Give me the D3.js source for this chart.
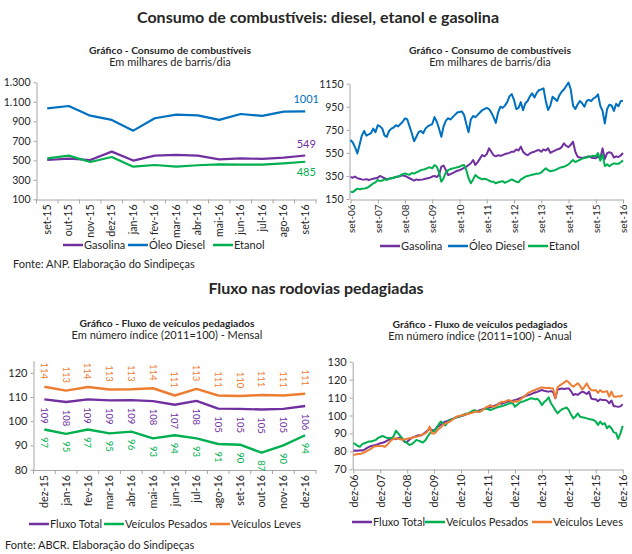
<!DOCTYPE html>
<html>
<head>
<meta charset="utf-8">
<script src="https://cdn.jsdelivr.net/npm/d3@7"></script>
<style>
  body { margin: 0; background: #fff; }
  svg { font-family: Lato, sans-serif; }
</style>
</head>
<body>
<svg id="chart" width="632" height="554"></svg>
<script>
// --- consumo de combustíveis, mensal (set-15 a set-16) ---
const mesesComb = ['set-15', 'out-15', 'nov-15', 'dez-15', 'jan-16', 'fev-16', 'mar-16',
  'abr-16', 'mai-16', 'jun-16', 'jul-16', 'ago-16', 'set-16'];
const gasolinaCurto = [503, 517, 503, 589, 497, 548, 555, 548, 510, 520, 514, 527, 549];
const dieselCurto = [1033, 1057, 958, 914, 804, 931, 968, 961, 914, 975, 955, 999, 1001];
const etanolCurto = [520, 548, 483, 534, 435, 452, 435, 449, 459, 455, 455, 469, 485];

// --- consumo de combustíveis, série longa (set-06 a set-16, 121 meses) ---
const anosComb = ['set-06', 'set-07', 'set-08', 'set-09', 'set-10', 'set-11',
  'set-12', 'set-13', 'set-14', 'set-15', 'set-16'];
const gasolinaLongo = [
  340, 335, 345, 330, 325, 320, 318, 322, 315, 320, 325, 330,
  335, 350, 340, 330, 320, 325, 330, 335, 340, 345, 350, 355,
  350, 340, 330, 320, 310, 320, 315, 318, 320, 325, 330, 335,
  345, 350, 340, 360, 430, 440, 400, 358, 365, 375, 385, 395,
  400, 410, 420, 430, 445, 460, 488, 445, 470, 500, 531, 520,
  540, 590, 560, 530, 520, 530, 525, 530, 540, 545, 550, 560,
  560, 580, 570, 604, 560, 540, 530, 545, 555, 560, 570, 575,
  560, 580, 570, 590, 550, 560, 570, 580, 585, 600, 633, 610,
  600, 620, 647, 560, 517, 510, 505, 510, 515, 520, 510, 505,
  503, 517, 503, 589, 497, 548, 555, 548, 510, 520, 514, 527,
  549];
const dieselLongo = [
  662, 640, 600, 545, 620, 700, 740, 700, 710, 720, 760, 730,
  790, 780, 760, 700, 690, 740, 760, 770, 790, 780, 800, 820,
  850, 840, 780, 720, 650, 690, 730, 740, 720, 760, 780, 790,
  800, 860, 820, 760, 690, 780, 830, 850, 840, 860, 880, 900,
  905, 910, 880, 800, 730, 840, 870, 860, 880, 900, 920, 930,
  940, 930, 900, 860, 810, 900, 950, 940, 960, 990, 1040, 1060,
  1010, 930, 940, 990, 920, 980, 1000, 1040, 1066, 1030, 1070, 1095,
  1100, 1110, 1000, 922, 960, 1037, 1020, 1000, 1050, 1080, 1100, 1130,
  1160, 1100, 960, 930, 970, 1000, 980, 950, 1000, 1010, 1000, 1023,
  1033, 1057, 958, 914, 804, 931, 968, 961, 914, 975, 955, 999,
  1001];
const etanolLongo = [
  213, 210, 225, 240, 235, 238, 240, 245, 255, 270, 285, 295,
  315, 305, 310, 320, 315, 325, 330, 335, 340, 345, 355, 365,
  372, 365, 360, 375, 370, 380, 390, 400, 405, 410, 420, 425,
  416, 445, 430, 380, 300, 330, 380, 400, 410, 415, 420, 425,
  430, 440, 445, 400, 330, 286, 320, 358, 340, 330, 320, 325,
  320, 310, 300, 300, 286, 295, 300, 305, 290, 300, 310, 320,
  310, 300, 295, 320, 330, 344, 350, 355, 360, 365, 370, 372,
  380, 400, 416, 400, 390, 395, 400, 410, 420, 425, 430, 440,
  450, 470, 488, 470, 480, 490, 500, 505, 510, 517, 520, 525,
  520, 548, 483, 534, 435, 452, 435, 449, 459, 455, 455, 469,
  485];

// --- fluxo nas rodovias pedagiadas, mensal (dez-15 a dez-16) ---
const mesesFluxo = ['dez-15', 'jan-16', 'fev-16', 'mar-16', 'abr-16', 'mai-16', 'jun-16',
  'jul-16', 'ago-16', 'set-16', 'out-16', 'nov-16', 'dez-16'];
const totalCurto = [109.0, 107.9, 109.0, 108.6, 108.7, 108.3, 106.8, 108.4, 105.2, 105.1, 104.8, 105.1, 106.3];
const pesadosCurto = [96.6, 94.8, 96.6, 95.0, 95.7, 92.9, 94.2, 92.9, 90.6, 90.3, 87.0, 90.0, 94.2];
const levesCurto = [114.2, 112.6, 114.1, 113.1, 113.2, 113.6, 110.6, 113.3, 110.6, 110.4, 110.8, 110.6, 111.3];

// --- fluxo, série longa (dez-06 a dez-16, 121 meses) ---
const anosFluxo = ['dez-06', 'dez-07', 'dez-08', 'dez-09', 'dez-10', 'dez-11',
  'dez-12', 'dez-13', 'dez-14', 'dez-15', 'dez-16'];
const totalLongo = [
  80.4, 80.5, 80.3, 80.6, 80.5, 81.0, 81.8, 82.5, 83.0, 83.3, 83.6, 84.0,
  84.5, 84.8, 85.2, 86.0, 86.6, 87.2, 87.0, 86.8, 87.5, 87.8, 86.5, 85.2,
  85.4, 86.5, 87.5, 88.0, 88.5, 89.0, 88.8, 89.5, 90.5, 91.5, 92.5, 92.0,
  91.5, 93.0, 94.0, 95.0, 96.0, 96.6, 97.0, 97.5, 98.0, 98.5, 99.0, 99.3,
  99.7, 100.0, 100.5, 101.0, 101.5, 102.1, 102.4, 102.2, 102.8, 103.2, 103.6, 103.8,
  104.0, 104.5, 105.0, 105.5, 106.0, 106.8, 106.5, 107.0, 107.5, 107.8, 108.0, 108.3,
  108.6, 109.0, 109.5, 110.0, 110.5, 111.0, 111.4, 111.8, 112.3, 112.8, 113.2, 113.8,
  114.2, 113.8, 113.5, 113.3, 113.6, 113.0, 109.6, 114.5, 114.8, 115.0, 114.8, 115.0,
  115.1, 113.5, 111.4, 112.0, 111.5, 112.5, 113.3, 112.8, 112.0, 113.3, 109.5, 109.0,
  109.0, 107.9, 109.0, 108.6, 108.7, 108.3, 106.8, 108.4, 105.2, 105.1, 104.8, 105.1,
  106.3];
const pesadosLongo = [
  84.5, 84.0, 83.0, 82.6, 84.0, 84.5, 85.0, 85.5, 85.5, 86.0, 86.3, 87.5,
  88.0, 88.6, 88.0, 87.5, 87.5, 87.3, 88.5, 91.5, 90.0, 88.5, 87.0, 85.5,
  84.5, 83.6, 84.0, 85.0, 86.3, 86.0, 85.5, 84.9, 86.0, 88.0, 90.0, 91.0,
  91.5, 93.0, 95.0, 96.6, 95.5, 94.5, 96.0, 97.5, 98.0, 98.5, 99.0, 99.5,
  99.7, 100.5, 101.0, 101.0, 101.8, 102.5, 103.0, 102.5, 102.0, 102.5, 103.5, 104.0,
  103.5, 103.0, 103.5, 104.0, 104.5, 104.9, 105.2, 105.5, 106.0, 106.5, 106.8, 107.0,
  104.9, 106.0, 107.0, 107.7, 108.0, 108.5, 109.0, 109.6, 109.5, 109.0, 109.3, 108.0,
  105.8, 107.5, 108.5, 110.1, 107.0, 105.0, 103.0, 101.2, 102.5, 103.5, 104.0, 104.5,
  103.0, 100.5, 98.4, 99.5, 101.2, 99.3, 99.0, 98.8, 98.4, 98.0, 97.8, 97.5,
  96.6, 94.8, 96.6, 95.0, 95.7, 92.9, 94.2, 92.9, 90.6, 90.3, 87.0, 90.0,
  94.2];
const levesLongo = [
  78.0, 78.3, 78.5, 78.5, 78.9, 79.5, 80.2, 80.8, 81.5, 82.6, 82.8, 83.0,
  83.0, 83.0, 82.5, 83.5, 85.0, 86.3, 87.0, 87.3, 87.0, 86.7, 86.5, 86.7,
  87.0, 87.3, 87.5, 88.0, 88.2, 88.5, 89.0, 89.5, 90.0, 91.0, 93.8, 90.0,
  90.0, 91.0, 92.5, 93.5, 94.7, 95.5, 96.0, 96.6, 97.5, 98.5, 99.3, 99.8,
  100.0, 100.3, 100.6, 101.0, 101.2, 101.5, 102.1, 102.3, 102.0, 102.6, 103.5, 104.5,
  105.0, 105.8, 105.0, 104.9, 105.8, 106.5, 107.7, 107.5, 108.0, 108.6, 108.3, 107.5,
  108.0, 107.7, 108.5, 109.5, 110.5, 111.5, 112.7, 113.2, 113.8, 114.2, 114.8, 115.3,
  115.7, 115.5, 115.3, 115.5, 115.2, 115.0, 109.6, 115.8, 116.8, 117.6, 118.5, 119.4,
  118.5, 117.0, 116.1, 117.0, 118.0, 116.5, 114.5, 116.0, 117.9, 115.5, 114.2, 114.0,
  114.2, 112.6, 114.1, 113.1, 113.2, 113.6, 110.6, 113.3, 110.6, 110.4, 110.8, 110.6,
  111.3];

const roxo = '#7030a0', azul = '#0070c0', verde = '#00b050', laranja = '#ed7d31';
const axisColor = '#a6a6a6', textColor = '#262626';

const svg = d3.select('#chart');
const ptBR = d3.formatLocale({decimal: ',', thousands: '.', grouping: [3], currency: ['R$', '']});
const fmtMil = ptBR.format(',d');
const fmtInt = d3.format('.0f');

const addText = (x, y, txt, size, opts = {}) => svg.append('text')
  .attr('x', x).attr('y', y)
  .attr('text-anchor', opts.anchor || 'middle')
  .attr('font-size', size)
  .attr('font-weight', opts.bold ? 'bold' : 'normal')
  .attr('fill', opts.color || textColor)
  .text(txt);

// style a d3 axis group the way Excel draws it
const styleAxis = (g, size) => {
  g.attr('font-family', null).attr('font-size', size);
  g.select('.domain').attr('stroke', axisColor);
  g.selectAll('.tick line').attr('stroke', axisColor);
  g.selectAll('.tick text').attr('fill', textColor);
};

// x labels standing vertically, reading bottom to top
const rotateLabels = (g, gap) => {
  g.selectAll('.tick text')
    .attr('transform', 'rotate(-90)')
    .attr('text-anchor', 'end')
    .attr('x', -gap).attr('y', 0).attr('dy', '0.35em');
};

const legend = (y, items, size) => {
  items.forEach(it => {
    svg.append('line')
      .attr('x1', it.x).attr('x2', it.x + 20)
      .attr('y1', y).attr('y2', y)
      .attr('stroke', it.color).attr('stroke-width', 2.5);
    addText(it.x + 21, y + 4, it.label, size, {anchor: 'start'});
  });
};

const drawLine = (data, xf, y, color, w) => svg.append('path')
  .datum(data)
  .attr('fill', 'none')
  .attr('stroke', color)
  .attr('stroke-width', w)
  .attr('stroke-linejoin', 'round')
  .attr('d', d3.line().x((d, i) => xf(i)).y(d => y(d)));

// ---------------- titles ----------------
addText(318, 23, 'Consumo de combustíveis: diesel, etanol e gasolina', 16, {bold: true});
addText(316, 294, 'Fluxo nas rodovias pedagiadas', 16, {bold: true});

// ---------------- painel 1: consumo mensal ----------------
{
  addText(170, 54, 'Gráfico - Consumo de combustíveis', 10.3, {bold: true});
  addText(170, 66, 'Em milhares de barris/dia', 11);

  const x = d3.scaleBand().domain(mesesComb).range([36.5, 316]);
  const y = d3.scaleLinear().domain([100, 1300]).range([199.3, 82.3]);
  const cx = i => x(mesesComb[i]) + x.bandwidth() / 2;

  const gy = svg.append('g').attr('transform', 'translate(36.5,0)')
    .call(d3.axisLeft(y).tickValues(d3.range(100, 1301, 200)).tickFormat(fmtMil)
      .tickSize(3).tickSizeOuter(0).tickPadding(3));
  styleAxis(gy, 10.5);

  const gx = svg.append('g').attr('transform', 'translate(0,199.5)')
    .call(d3.axisBottom(x).tickSize(0).tickSizeOuter(0));
  styleAxis(gx, 10.5);
  rotateLabels(gx, 5);
  gx.selectAll('.sep').data([...mesesComb.map(m => x(m)), x.range()[1]]).join('line')
    .attr('x1', d => d).attr('x2', d => d).attr('y1', 0).attr('y2', 4)
    .attr('stroke', axisColor);

  drawLine(gasolinaCurto, cx, y, roxo, 2.2);
  drawLine(dieselCurto, cx, y, azul, 2.2);
  drawLine(etanolCurto, cx, y, verde, 2.2);

  const last = mesesComb.length - 1;
  addText(cx(last) + 1, y(dieselCurto[last]) - 8, fmtInt(dieselCurto[last]), 11, {color: azul});
  addText(cx(last) + 1, y(gasolinaCurto[last]) - 8, fmtInt(gasolinaCurto[last]), 11, {color: roxo});
  addText(cx(last) + 1, y(etanolCurto[last]) + 14, fmtInt(etanolCurto[last]), 11, {color: verde});

  legend(245, [
    {label: 'Gasolina', color: roxo, x: 63},
    {label: 'Óleo Diesel', color: azul, x: 128},
    {label: 'Etanol', color: verde, x: 213},
  ], 11);
  addText(13, 268, 'Fonte: ANP. Elaboração do Sindipeças', 11, {anchor: 'start'});
}

// ---------------- painel 2: consumo série longa ----------------
{
  addText(490, 54, 'Gráfico - Consumo de combustíveis', 10.3, {bold: true});
  addText(490, 66, 'Em milhares de barris/dia', 11);

  const x = d3.scaleLinear().domain([0, gasolinaLongo.length - 1]).range([350.5, 623]);
  const y = d3.scaleLinear().domain([150, 1150]).range([199, 83.7]);

  const gy = svg.append('g').attr('transform', 'translate(349.5,0)')
    .call(d3.axisLeft(y).tickValues(d3.range(150, 1151, 200)).tickFormat(d3.format('d'))
      .tickSize(3).tickSizeOuter(0).tickPadding(3));
  styleAxis(gy, 10.5);

  const gx = svg.append('g').attr('transform', 'translate(0,199.5)')
    .call(d3.axisBottom(x).tickValues(d3.range(0, 121, 12)).tickFormat(i => anosComb[i / 12])
      .tickSize(4).tickSizeOuter(0));
  styleAxis(gx, 10);
  rotateLabels(gx, 5);

  drawLine(gasolinaLongo, x, y, roxo, 2);
  drawLine(dieselLongo, x, y, azul, 2);
  drawLine(etanolLongo, x, y, verde, 2);

  legend(246, [
    {label: 'Gasolina', color: roxo, x: 380},
    {label: 'Óleo Diesel', color: azul, x: 448},
    {label: 'Etanol', color: verde, x: 528},
  ], 11);
}

// ---------------- painel 3: fluxo mensal ----------------
{
  addText(167, 327, 'Gráfico - Fluxo de veículos pedagiados', 10.3, {bold: true});
  addText(167, 339, 'Em número índice (2011=100) - Mensal', 11);

  const x = d3.scaleBand().domain(mesesFluxo).range([33.5, 316]);
  const y = d3.scaleLinear().domain([80, 125]).range([469.7, 360.6]);
  const cx = i => x(mesesFluxo[i]) + x.bandwidth() / 2;

  const gy = svg.append('g').attr('transform', 'translate(33.5,0)')
    .call(d3.axisLeft(y).tickValues(d3.range(80, 121, 10))
      .tickSize(3).tickSizeOuter(0).tickPadding(3));
  styleAxis(gy, 11);

  const gx = svg.append('g').attr('transform', 'translate(0,470)')
    .call(d3.axisBottom(x).tickSize(0).tickSizeOuter(0));
  styleAxis(gx, 10.8);
  rotateLabels(gx, 5);
  gx.selectAll('.sep').data([...mesesFluxo.map(m => x(m)), x.range()[1]]).join('line')
    .attr('x1', d => d).attr('x2', d => d).attr('y1', 0).attr('y2', 4)
    .attr('stroke', axisColor);

  const series = [
    {data: totalCurto, color: roxo, off: 16},
    {data: pesadosCurto, color: verde, off: 13},
    {data: levesCurto, color: laranja, off: -16},
  ];
  series.forEach(s => drawLine(s.data, cx, y, s.color, 2.4));
  series.forEach(s => {
    svg.append('g').selectAll('text').data(s.data).join('text')
      .attr('transform', (d, i) => `translate(${cx(i)},${y(d) + s.off}) rotate(90)`)
      .attr('text-anchor', 'middle')
      .attr('dy', '0.35em')
      .attr('font-size', 9.5)
      .attr('fill', s.color)
      .text(d => fmtInt(d));
  });

  legend(524, [
    {label: 'Fluxo Total', color: roxo, x: 29},
    {label: 'Veículos Pesados', color: verde, x: 104},
    {label: 'Veículos Leves', color: laranja, x: 210},
  ], 11);
  addText(5, 549, 'Fonte: ABCR. Elaboração do Sindipeças', 11, {anchor: 'start'});
}

// ---------------- painel 4: fluxo série longa ----------------
{
  addText(480, 328, 'Gráfico - Fluxo de veículos pedagiados', 10.3, {bold: true});
  addText(480, 340, 'Em número índice (2011=100) - Anual', 11);

  const x = d3.scaleLinear().domain([0, totalLongo.length - 1]).range([353.3, 622.7]);
  const y = d3.scaleLinear().domain([70, 130]).range([469.3, 361.7]);

  const gy = svg.append('g').attr('transform', 'translate(352.7,0)')
    .call(d3.axisLeft(y).tickValues(d3.range(70, 131, 10))
      .tickSize(3).tickSizeOuter(0).tickPadding(3));
  styleAxis(gy, 11);

  const gx = svg.append('g').attr('transform', 'translate(0,469.5)')
    .call(d3.axisBottom(x).tickValues(d3.range(0, 121, 12)).tickFormat(i => anosFluxo[i / 12])
      .tickSize(4).tickSizeOuter(0));
  styleAxis(gx, 10.8);
  rotateLabels(gx, 5);

  drawLine(totalLongo, x, y, roxo, 2);
  drawLine(pesadosLongo, x, y, verde, 2);
  drawLine(levesLongo, x, y, laranja, 2);

  legend(522, [
    {label: 'Fluxo Total', color: roxo, x: 352},
    {label: 'Veículos Pesados', color: verde, x: 425},
    {label: 'Veículos Leves', color: laranja, x: 532},
  ], 11);
}
</script>
</body>
</html>
